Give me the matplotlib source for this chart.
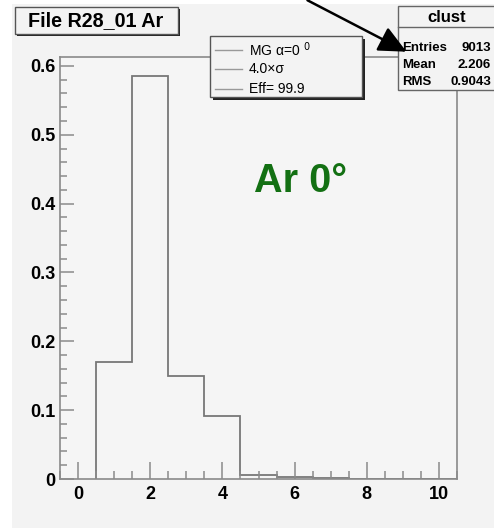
#!/usr/bin/env python3
"""ROOT 스타일 히스토그램: File R28_01 Ar, clust 분포 (Ar 0°)."""
import numpy as np
import matplotlib
matplotlib.use("Agg")
import matplotlib.pyplot as plt
from matplotlib.patches import Rectangle, FancyArrowPatch
from matplotlib.ticker import MultipleLocator

plt.rcParams["font.family"] = ["Liberation Sans", "DejaVu Sans"]

W, H = 494, 530

# 히스토그램 데이터 (bin 중심 1..10, 폭 1)
bin_edges = np.arange(0.5, 11.0, 1.0)
bin_values = [0.17, 0.585, 0.15, 0.0915, 0.006, 0.003, 0.0015, 0.0, 0.0, 0.0]

stat_labels = ["Entries", "Mean", "RMS"]
stat_values = ["9013", "2.206", "0.9043"]
legend_labels = ["MG α=0 $^{0}$", "4.0×σ", "Eff= 99.9"]

GRAY_BG = "#f3f3f3"
LINE = "#8a8a8a"


def px(x, y):
    """픽셀 좌표(좌상단 원점) -> figure 좌표"""
    return x / W, 1 - y / H


def box(fig, x0, y0, x1, y1, shadow=0, lw=1.0, ec="#555555"):
    if shadow:
        fig.patches.append(Rectangle(px(x0 + shadow, y1 + shadow), (x1 - x0) / W, (y1 - y0) / H,
                                     transform=fig.transFigure, fc="#222222", ec="none", zorder=5))
    fig.patches.append(Rectangle(px(x0, y1), (x1 - x0) / W, (y1 - y0) / H,
                                 transform=fig.transFigure, fc=GRAY_BG, ec=ec, lw=lw, zorder=6))


fig = plt.figure(figsize=(W / 100, H / 100), dpi=100)
fig.patch.set_facecolor("white")
fig.patches.append(Rectangle(px(12, 528), (W - 12) / W, (528 - 4) / H,
                             transform=fig.transFigure, fc=GRAY_BG, ec="none", zorder=-10))

ax = fig.add_axes([60 / W, (H - 479) / H, 397 / W, 422 / H])
ax.set_facecolor("#f5f5f5")
ax.stairs(bin_values, bin_edges, baseline=0, color="#777777", lw=1.3)
ax.set_xlim(-0.5, 10.5)
ax.set_ylim(0, 0.613)

for s in ax.spines.values():
    s.set_color(LINE)
    s.set_linewidth(1.2)
ax.xaxis.set_major_locator(MultipleLocator(2))
ax.xaxis.set_minor_locator(MultipleLocator(0.5))
ax.yaxis.set_major_locator(MultipleLocator(0.1))
ax.yaxis.set_minor_locator(MultipleLocator(0.02))
ax.tick_params(which="both", direction="in", color=LINE, width=1.1, top=False, right=False)
ax.tick_params(which="major", length=12, labelsize=13, pad=5)
ax.tick_params(which="minor", length=6)
ax.tick_params(axis="y", which="major", length=10, pad=3)
ax.tick_params(axis="y", which="minor", length=5)
ax.set_yticks([0, 0.1, 0.2, 0.3, 0.4, 0.5, 0.6])
ax.set_yticklabels(["0", "0.1", "0.2", "0.3", "0.4", "0.5", "0.6"])
ax.set_xticks([0, 2, 4, 6, 8, 10])
ax.set_xticklabels(["0", "2", "4", "6", "8", "10"])
for t in ax.get_xticklabels() + ax.get_yticklabels():
    t.set_fontweight("bold")

fig.text(*px(301, 181), "Ar 0°", color="#137013", fontsize=28.5, fontweight="bold",
         ha="center", va="center", zorder=7)

# 제목 박스
box(fig, 15, 7, 178, 34, shadow=2)
fig.text(*px(96, 21), "File R28_01 Ar", fontsize=14.2, fontweight="bold",
         ha="center", va="center", zorder=7)

# 범례 박스
box(fig, 210, 36, 362, 97, shadow=3)
for lab, yy in zip(legend_labels, [50, 69, 89]):
    fig.add_artist(plt.Line2D([215 / W, 242 / W], [1 - yy / H] * 2, color="#999999", lw=1.0, zorder=8))
    fig.text(*px(249, yy), lab, fontsize=10, ha="left", va="center", zorder=8)

# 통계 박스
box(fig, 398, 6, 500, 90, lw=1.0, ec="#666666")
fig.add_artist(plt.Line2D([398 / W, 1], [1 - 27 / H] * 2, color="#666666", lw=1.0, zorder=8))
fig.text(*px(447, 17), "clust", fontsize=12, fontweight="bold", ha="center", va="center", zorder=8)
for lab, val, yy in zip(stat_labels, stat_values, [48, 65, 82]):
    fig.text(*px(402, yy), lab, fontsize=9.5, fontweight="bold", ha="left", va="center", zorder=8)
    fig.text(*px(491, yy), val, fontsize=9.5, fontweight="bold", ha="right", va="center", zorder=8)

# 화살표
arrow = FancyArrowPatch(px(305, -1), px(409, 53), transform=fig.transFigure,
                        arrowstyle="-|>,head_length=17,head_width=8", mutation_scale=1,
                        color="black", lw=1.8, zorder=9)
fig.patches.append(arrow)

fig.savefig("out.png", dpi=100)
